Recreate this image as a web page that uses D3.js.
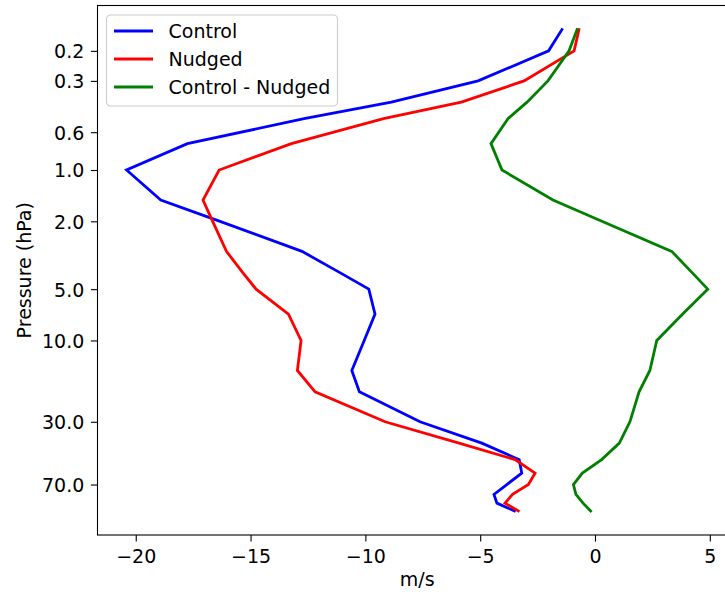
<!DOCTYPE html>
<html>
<head>
<meta charset="utf-8">
<script src="https://cdn.jsdelivr.net/npm/d3@7"></script>
<style>
  html, body { margin: 0; padding: 0; background: #fff; }
  svg { display: block; font-family: "DejaVu Sans", sans-serif; }
</style>
</head>
<body>
<svg id="chart" width="725" height="594"></svg>
<script>
// Pressure levels (hPa) and zonal wind profiles (m/s)
const pressure = [0.15, 0.2, 0.3, 0.4, 0.5, 0.7, 1, 1.5, 2, 3, 4, 5, 7, 10, 15, 20, 30, 40, 50, 60, 70, 80, 90, 100];
const control = [-1.44, -2.02, -5.09, -8.87, -12.67, -17.75, -20.40, -18.91, -16.33, -12.76, -11.11, -9.85, -9.58, -10.05, -10.59, -10.26, -7.62, -4.93, -3.30, -3.19, -3.84, -4.40, -4.27, -3.51];
const nudged = [-0.70, -0.91, -3.09, -5.82, -9.21, -13.22, -16.37, -17.07, -16.65, -16.05, -15.34, -14.76, -13.35, -12.80, -12.96, -12.19, -9.14, -5.92, -3.48, -2.61, -2.90, -3.59, -3.92, -3.34];
const difference = [-0.78, -1.13, -2.05, -2.96, -3.79, -4.53, -4.05, -1.83, 0.30, 3.34, 4.23, 4.91, 3.82, 2.69, 2.39, 1.92, 1.52, 1.06, 0.29, -0.55, -0.94, -0.83, -0.52, -0.19];

const seriesNames = ["Control", "Nudged", "Control - Nudged"];
const seriesColors = ["#0000ff", "#ff0000", "#008000"];

const yTicks = [0.2, 0.3, 0.6, 1.0, 2.0, 5.0, 10.0, 30.0, 70.0];
const yTickLabels = ["0.2", "0.3", "0.6", "1.0", "2.0", "5.0", "10.0", "30.0", "70.0"];
const xTicks = [-20, -15, -10, -5, 0, 5];

const svg = d3.select("#chart");
const plot = { left: 97.5, top: 5.5, width: 639.3, height: 529.5 };
const fontSize = 19;

// Axis limits with 5% padding (log padding on pressure)
const allX = control.concat(nudged, difference);
const xMin = d3.min(allX), xMax = d3.max(allX), xPad = 0.05 * (xMax - xMin);
const lpMin = Math.log10(d3.min(pressure)), lpMax = Math.log10(d3.max(pressure));
const lpPad = 0.05 * (lpMax - lpMin);

const x = d3.scaleLinear()
  .domain([xMin - xPad, xMax + xPad])
  .range([plot.left, plot.left + plot.width]);
const y = d3.scaleLog()
  .domain([Math.pow(10, lpMin - lpPad), Math.pow(10, lpMax + lpPad)])
  .range([plot.top, plot.top + plot.height]);

const datasets = [control, nudged, difference];

// profile lines
const line = d3.line().x(d => x(d[0])).y(d => y(d[1]));
datasets.forEach((vals, i) => {
  svg.append("path")
    .datum(vals.map((v, k) => [v, pressure[k]]))
    .attr("d", line)
    .attr("fill", "none")
    .attr("stroke", seriesColors[i])
    .attr("stroke-width", 2.8)
    .attr("stroke-linejoin", "miter")
    .attr("stroke-linecap", "square");
});

// frame
svg.append("rect")
  .attr("x", plot.left).attr("y", plot.top)
  .attr("width", plot.width).attr("height", plot.height)
  .attr("fill", "none").attr("stroke", "#000").attr("stroke-width", 1.1);

// x axis
const xAxis = d3.axisBottom(x)
  .tickValues(xTicks)
  .tickFormat(d => (d < 0 ? "\u2212" + Math.abs(d) : String(d)))
  .tickSizeOuter(0).tickSizeInner(6.6).tickPadding(6.6);
const gx = svg.append("g")
  .attr("transform", `translate(0,${plot.top + plot.height})`)
  .call(xAxis);
gx.select(".domain").remove();
gx.selectAll(".tick line").attr("stroke", "#000").attr("stroke-width", 1.1);
gx.selectAll(".tick text")
  .attr("font-family", "DejaVu Sans").attr("font-size", fontSize).attr("fill", "#000")
  .attr("dy", "0.78em");

// y axis
const yAxis = d3.axisLeft(y)
  .tickValues(yTicks)
  .tickFormat((d, i) => yTickLabels[i])
  .tickSizeOuter(0).tickSizeInner(6.6).tickPadding(6.6);
const gy = svg.append("g")
  .attr("transform", `translate(${plot.left},0)`)
  .call(yAxis);
gy.select(".domain").remove();
gy.selectAll(".tick line").attr("stroke", "#000").attr("stroke-width", 1.1);
gy.selectAll(".tick text")
  .attr("font-family", "DejaVu Sans").attr("font-size", fontSize).attr("fill", "#000")
  .attr("dy", "0.36em");

// axis labels
svg.append("text")
  .attr("x", plot.left + plot.width / 2).attr("y", 586)
  .attr("text-anchor", "middle").attr("font-size", fontSize).attr("fill", "#000")
  .text("m/s");
svg.append("text")
  .attr("transform", `translate(31,${plot.top + plot.height / 2}) rotate(-90)`)
  .attr("text-anchor", "middle").attr("font-size", fontSize).attr("fill", "#000")
  .text("Pressure (hPa)");

// legend
const legend = svg.append("g").attr("transform", "translate(106.5,15)");
legend.append("rect")
  .attr("width", 231).attr("height", 91).attr("rx", 4).attr("ry", 4)
  .attr("fill", "#fff").attr("fill-opacity", 0.8)
  .attr("stroke", "#cccccc").attr("stroke-width", 1.1);
seriesNames.forEach((name, i) => {
  const cy = 16 + i * 28;
  legend.append("line")
    .attr("x1", 7.5).attr("x2", 46.5).attr("y1", cy).attr("y2", cy)
    .attr("stroke", seriesColors[i]).attr("stroke-width", 2.8);
  legend.append("text")
    .attr("x", 62).attr("y", cy).attr("dy", "0.36em")
    .attr("font-size", fontSize).attr("fill", "#000")
    .text(name);
});
</script>
</body>
</html>
